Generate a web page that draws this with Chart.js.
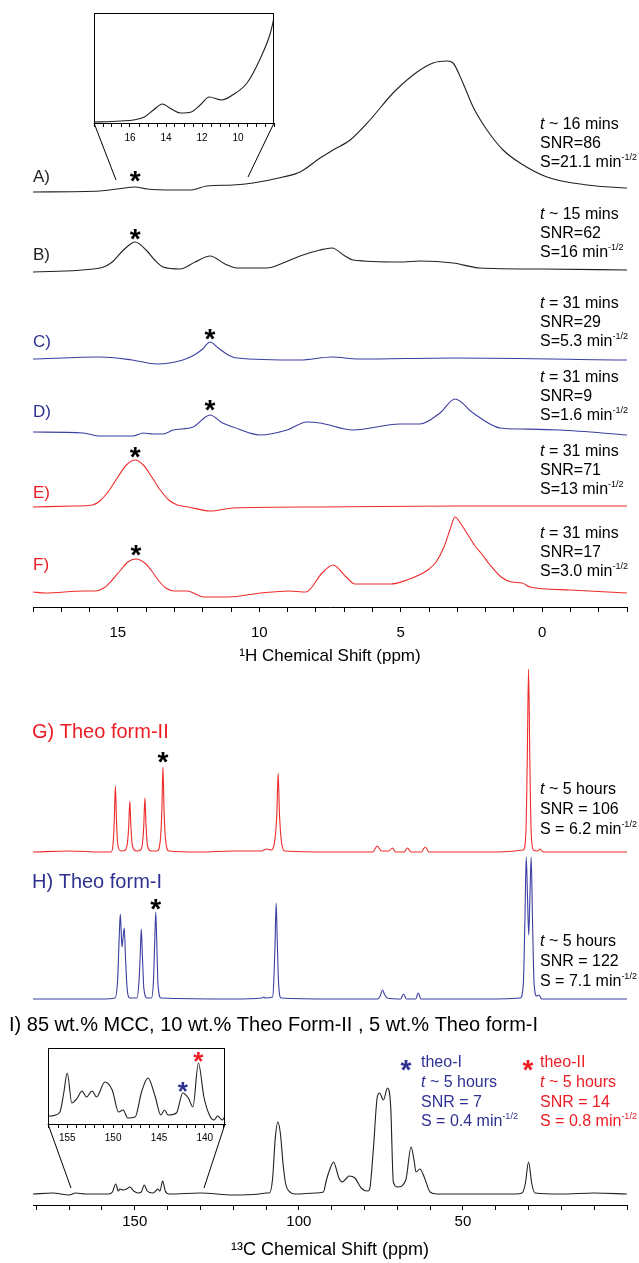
<!DOCTYPE html>
<html><head><meta charset="utf-8">
<script src="https://cdn.jsdelivr.net/npm/chart.js@4/dist/chart.umd.min.js"></script>
<style>
html,body{margin:0;padding:0;background:#fff;}
#wrap{position:relative;width:639px;height:1263px;overflow:hidden;background:#fff;}
canvas{position:absolute;}
</style></head><body>
<div id="wrap">
<canvas id="c1"></canvas>
<canvas id="c2"></canvas>
<canvas id="c3"></canvas>
<canvas id="c4"></canvas>
</div>
<script>
// ================= DATA =================
// 1H spectra  [ppm, intensity (a.u.)]
const specA_1H = [[18,0],[15.63,1],[15.03,3],[14.39,5],[13.97,3],[13.05,2],[12.45,2],[11.85,6],[10.93,7],[10.22,9],[9.16,15],[8.56,20],[7.85,34],[7.39,42],[6.79,52],[6.09,72],[5.27,99],[4.42,120],[3.86,129],[3.36,131],[3.15,129],[2.80,109],[2.44,85],[1.95,62],[1.38,42],[0.78,29],[-0.17,15],[-1.59,7],[-3,4]];
const specB_1H = [[18,0],[15.63,4],[15.2,10],[14.8,22],[14.39,30],[14.0,22],[13.7,12],[13.40,5],[12.80,3],[12.27,10],[11.74,16],[11.21,8],[10.79,4],[9.73,4],[9.16,9],[8.56,16],[7.85,22],[7.43,24],[6.97,16],[6.69,12],[5.03,10],[4.32,11],[3.15,9],[2.20,4],[0.08,3],[-3,2]];
const specC_1H = [[18,0],[15.63,2],[14.5,-1],[13.62,-5],[12.70,-1],[12.3,4],[12.0,10],[11.74,17],[11.45,11],[11.1,4],[10.79,1],[8.56,-1],[7.43,2],[6.5,0],[3.1,1],[-3,-1]];
const specD_1H = [[18,0],[16.23,-1],[15.63,-4],[14.46,-4],[14.11,-1],[13.75,-2],[13.40,-2],[13.05,2],[12.34,5],[11.74,17],[11.3,9],[10.93,5],[9.97,-3],[9.02,2],[8.31,10],[7.85,9],[6.69,2],[5.03,8],[4.32,8],[3.61,19],[3.08,33],[2.44,19],[1.49,4],[0.78,3],[-0.63,2],[-3,-3]];
const specE_1H = [[18,0],[16.5,1],[15.9,2],[15.6,7],[15.3,17],[15.0,30],[14.7,42],[14.39,47],[14.1,42],[13.8,30],[13.5,17],[13.2,7],[12.9,2],[12.5,0],[11.74,-4],[10.93,-1],[7.85,0],[3.1,1],[-3,1]];
const specF_1H = [[18,0],[17.57,-1],[16.2,1],[15.8,1],[15.5,4],[15.2,12],[14.9,22],[14.65,30],[14.36,33],[14.05,29],[13.8,21],[13.55,11],[13.3,4],[13.0,1],[12.56,1],[11.95,-5],[11.11,-5],[9.94,-1],[8.95,1],[8.35,0],[7.78,19],[7.39,27],[6.93,15],[6.62,8],[5.34,8],[4.78,12],[4.04,22],[3.75,30],[3.47,45],[3.26,62],[3.08,75],[2.87,68],[2.62,57],[2.37,46],[2.16,39],[1.84,27],[1.45,15],[1.07,10],[0.71,9],[0.43,5],[-0.98,2],[-3,-1]];
// inset of spectrum A (expanded vertical scale)
const insetA_1H = [[18,1],[17,1.5],[16.5,2],[15.8,3],[15.2,6],[14.7,13],[14.2,19],[13.7,14],[13.2,10],[12.6,11],[12.1,18],[11.6,26],[10.9,23],[10.3,28],[9.5,40],[8.8,63],[8.2,90],[8,105]];

const labels1H = ['A)','B)','C)','D)','E)','F)'];
const times1H  = ['~ 16 mins','~ 15 mins','= 31 mins','= 31 mins','= 31 mins','= 31 mins'];
const snr1H    = ['86','62','29','9','71','17'];
const sens1H   = ['21.1','16','5.3','1.6','13','3.0'];
const star1H   = [14.39,14.39,11.74,11.74,14.39,14.36];
const ticks1H  = [15,10,5,0];

// 13C spectra [ppm, intensity (a.u.)]
const specG_13C = [[181,0],[170,1],[160,0],[157.2,0],[156.6,8],[156.25,30],[155.9,66],[155.55,30],[155.1,6],[154.2,1],[152.8,2],[152.2,10],[151.85,25],[151.5,51],[151.15,24],[150.7,6],[149.5,1],[148.2,2],[147.6,10],[147.25,26],[146.9,54],[146.55,26],[146.1,6],[145,1],[143.2,1],[142.2,12],[141.75,40],[141.4,85],[141.05,40],[140.6,12],[139.6,1],[130,0],[120,1],[111.5,1],[109.8,3],[108.5,2],[107.4,10],[106.7,38],[106.3,79],[105.9,38],[105.2,8],[104.3,1],[90,0],[77.5,0],[76.1,6],[74.8,1],[72.6,1],[71.5,4],[70.5,0],[67.9,0],[66.9,4],[65.8,0],[62.7,0],[61.5,5],[60.3,0],[40,0],[31.6,2],[30.8,20],[30.4,90],[30.0,183],[29.6,90],[29.2,20],[28.5,2],[27.3,1],[26.5,3],[25.6,0],[0,0]];
const specH_13C = [[181,0],[160,0],[156,1],[155.2,20],[154.75,60],[154.4,85],[154.1,65],[153.9,52],[153.6,60],[153.2,71],[152.8,40],[152.3,10],[151.5,1],[149.3,1],[148.7,18],[148.35,42],[148.0,70],[147.65,42],[147.2,10],[146.2,1],[144.9,1],[144.3,18],[143.95,52],[143.6,87],[143.25,52],[142.9,14],[142,1],[120,0],[111.2,1],[110.7,2],[110.2,1],[108,2],[107.6,20],[107.25,55],[106.9,96],[106.55,55],[106.2,18],[105.4,1],[90,0],[76,0],[75.2,3],[74.5,9],[73.8,4],[73,1],[69,0],[68.1,5],[67.2,0],[64.4,0],[63.6,6],[62.8,0],[40,0],[32.5,1],[31.6,15],[31.1,80],[30.7,142],[30.3,100],[29.95,64],[29.6,100],[29.2,142],[28.8,80],[28.3,15],[27.5,3],[26.8,4],[26,0],[0,0]];
const specI_13C = [[181,0],[175,1],[170,-1],[168,1],[165,0],[158,0],[156.8,2],[155.8,10],[155,3],[154.5,5],[153.5,4],[152.5,5],[151.5,7],[150.3,3],[149,1],[148,2],[147.1,9],[146.2,3],[144.5,1],[143.6,3],[143.0,5],[142.3,3],[141.5,13],[140.7,3],[139.5,0],[130,1],[120,-1],[112,0],[110,1],[109,1],[108,15],[107.2,55],[106.4,72],[105.6,60],[104.8,30],[104,10],[103,3],[101,0],[95,1],[92.5,2],[91.6,14],[90.4,26],[89.4,32],[88.5,24],[87.9,17],[86.7,12],[85.7,15],[84.7,18],[82.9,16],[81.0,6],[79.2,3],[78.5,4],[77.3,44],[76.1,97],[75.4,101],[74.2,94],[73.0,106],[72.0,87],[71.2,12],[69.9,7],[67.4,14],[65.8,47],[64.9,34],[64.3,22],[63.1,25],[61.8,17],[60.0,2],[58,0],[45,0],[34,0],[32,1],[31,10],[30.0,32],[29,10],[28,1],[20,0],[10,1],[0,0]];
// inset of spectrum I (expanded)
const insetI_13C = [[157.1,8],[156.8,8],[156.3,9],[155.8,12],[155.4,30],[155.0,51],[154.5,21],[153.9,26],[153.4,33],[152.9,27],[152.3,33],[151.8,27],[150.9,42],[150.1,34],[149.4,12],[148.9,14],[148.4,6],[147.6,7],[146.9,32],[146.2,46],[145.4,27],[144.8,9],[144.4,14],[144.0,9],[143.1,11],[142.4,31],[141.8,26],[141.3,17],[140.7,61],[140.1,27],[139.5,9],[139.0,4],[138.6,8],[138.1,4],[137.8,8]];
const ticks13C = [150,100,50];
const starInsetI = [[142.4,'blue'],[140.7,'red']];

// ================= STYLE / LAYOUT =================
const FONT = "'Liberation Sans', Arial, Helvetica, sans-serif";
const BLACK = '#231f20', BLUE = '#2e3192', RED = '#ed1c24';
const TRACE_BLUE = '#3b3fa0', TRACE_RED = '#ef2b2b';

function place(id, left, top, w, h){
  const c = document.getElementById(id);
  c.width = w; c.height = h;
  c.style.left = left+'px'; c.style.top = top+'px';
  c.style.width = w+'px'; c.style.height = h+'px';
  return c;
}
function txt(ctx, x, y, parts, color, size, align){
  ctx.save(); ctx.fillStyle = color; ctx.textBaseline = 'middle'; ctx.textAlign = 'left';
  let total = 0;
  const seg = parts.map(([s, st])=>{
    const sz = st==='s' ? Math.round(size*0.58) : size;
    const f = (st==='i'?'italic ':'') + sz + 'px ' + FONT;
    ctx.font = f; const w = ctx.measureText(s).width; total += w;
    return {s, f, w, dy: st==='s' ? -size*0.33 : 0};
  });
  let cx = align==='center' ? x - total/2 : x;
  for (const g of seg){ ctx.font = g.f; ctx.fillText(g.s, cx, y+g.dy); cx += g.w; }
  ctx.restore();
}
function drawStar(ctx, x, cy, size, color, bold){
  ctx.save(); ctx.fillStyle = color; ctx.font = (bold?'bold ':'') + size + 'px ' + FONT;
  ctx.textAlign = 'center'; ctx.textBaseline = 'alphabetic';
  ctx.fillText('*', x, cy + size*0.58); ctx.restore();
}
function peakVal(data, ppm){ let m = -Infinity; for (const [p,v] of data) if (Math.abs(p-ppm) < 0.3) m = Math.max(m, v); return m; }
function line(ctx, x1,y1,x2,y2){ ctx.beginPath(); ctx.moveTo(x1,y1); ctx.lineTo(x2,y2); ctx.stroke(); }
function ds(data, off, color, w){
  return {data: data.map(p=>({x:p[0], y:p[1]+off})), borderColor: color, borderWidth: w||1.1,
          pointRadius: 0, fill: false, cubicInterpolationMode: 'monotone'};
}
function xAxis(min, max, step, labelSet, fontSize, tickLen, pad, title, titleSize, titlePad, height){
  const o = {
    type:'linear', reverse:true, min, max,
    ticks:{stepSize:step, autoSkip:false, maxRotation:0, includeBounds:false, color:'#000', padding:pad,
           font:{family:FONT, size:fontSize},
           callback: v => labelSet.some(l => Math.abs(l - v) < 1e-6) ? String(Math.round(v)) : ''},
    grid:{drawOnChartArea:false, drawTicks:true, tickLength:tickLen, color:'#000', lineWidth:1},
    border:{display:true, color:'#000', width:1},
    afterFit: s => { s.height = height; }
  };
  if (title) o.title = {display:true, text:title, color:'#000', font:{family:FONT, size:titleSize}, padding:{top:0, bottom:titlePad}};
  return o;
}
const baseOpts = {responsive:false, animation:false, devicePixelRatio:1,
  plugins:{legend:{display:false}, tooltip:{enabled:false}}, events:[]};

// ---------- Chart 1 : 1H spectra ----------
const H1_AXIS_Y = 607;
const off1H = [607-192, 607-272, 607-359, 607-432, 607-507, 607-592];
const specs1H = [specA_1H, specB_1H, specC_1H, specD_1H, specE_1H, specF_1H];
const cols1H  = [BLACK, BLACK, TRACE_BLUE, TRACE_BLUE, TRACE_RED, TRACE_RED];
const lblCol1H = [BLACK, BLACK, BLUE, BLUE, RED, RED];
const LBL_Y = [177, 255, 342, 412, 493, 565];
const TXT_Y = [125, 215, 304, 378, 452, 534];
const STAR_GAP = [13, 10, 10, 12, 10, 11];

const annot1 = {id:'annot1', afterDraw(chart){
  const ctx = chart.ctx, xs = chart.scales.x, ys = chart.scales.y;
  ctx.save(); ctx.strokeStyle = '#000'; ctx.lineWidth = 1;
  line(ctx, 94,123, 116,180); line(ctx, 274,123, 248,177);
  ctx.restore();
  specs1H.forEach((d,i)=>{
    txt(ctx, 33, LBL_Y[i], [[labels1H[i],'']], lblCol1H[i], 17);
    const ty = TXT_Y[i];
    txt(ctx, 540, ty,    [['t','i'],[' '+times1H[i],'']], '#000', 16);
    txt(ctx, 540, ty+19, [['SNR='+snr1H[i],'']], '#000', 16);
    txt(ctx, 540, ty+38, [['S='+sens1H[i]+' min',''],['-1/2','s']], '#000', 16);
    const pv = peakVal(d, star1H[i]);
    drawStar(ctx, xs.getPixelForValue(star1H[i]), ys.getPixelForValue(off1H[i]+pv) - STAR_GAP[i], 28, '#000', true);
  });
}};
new Chart(place('c1', 0, 0, 639, 680), {
  type:'line',
  data:{datasets: specs1H.map((d,i)=>ds(d, off1H[i], cols1H[i]))},
  options:{...baseOpts, layout:{padding:{left:33, right:12, top:0, bottom:0}},
    scales:{ x: xAxis(-3, 18, 1, ticks1H, 15, 5, 12, '¹H Chemical Shift (ppm)', 17, 13, 73),
             y: {display:false, min:0, max:H1_AXIS_Y} }},
  plugins:[annot1]
});

// ---------- Chart 3 : inset of A ----------
const boxPlugin = {id:'box', afterDraw(chart){
  const a = chart.chartArea, ctx = chart.ctx;
  ctx.save(); ctx.strokeStyle = '#000'; ctx.lineWidth = 1;
  ctx.strokeRect(Math.round(a.left)+0.5, Math.round(a.top)+0.5, Math.round(a.right-a.left)-1, Math.round(a.bottom-a.top));
  ctx.restore();
}};
new Chart(place('c3', 84, 13, 200, 140), {
  type:'line',
  data:{datasets:[ds(insetA_1H, 0, BLACK, 1.1)]},
  options:{...baseOpts, layout:{padding:{left:10, right:10, top:0, bottom:0}},
    scales:{ x: xAxis(8, 18, 0.5, [16,14,12,10], 10, 4, 5, null, 0, 0, 30),
             y: {display:false, min:0, max:110} }},
  plugins:[boxPlugin]
});

// ---------- Chart 2 : 13C spectra ----------
const TOP2 = 640;
const off13C = [1205-852, 1205-999, 1205-1194];
const annot2 = {id:'annot2', afterDraw(chart){
  const ctx = chart.ctx, xs = chart.scales.x, ys = chart.scales.y;
  const Y = v => v - TOP2;
  txt(ctx, 32, Y(732), [['G) Theo form-II','']], RED, 20);
  txt(ctx, 32, Y(882), [['H) Theo form-I','']], BLUE, 20);
  txt(ctx, 9, Y(1025), [['I) 85 wt.% MCC, 10 wt.% Theo Form-II , 5 wt.% Theo form-I','']], '#000', 20);
  drawStar(ctx, xs.getPixelForValue(141.4), ys.getPixelForValue(off13C[0]+peakVal(specG_13C,141.4)) - 12, 28, '#000', true);
  drawStar(ctx, xs.getPixelForValue(143.6), ys.getPixelForValue(off13C[1]+peakVal(specH_13C,143.6)) - 10, 28, '#000', true);
  const blk = [[790,'106','6.2'],[942,'122','7.1']];
  for (const [y0, snr, s] of blk){
    txt(ctx, 540, Y(y0),    [['t','i'],[' ~ 5 hours','']], '#000', 16);
    txt(ctx, 540, Y(y0+20), [['SNR = '+snr,'']], '#000', 16);
    txt(ctx, 540, Y(y0+40), [['S = '+s+' min',''],['-1/2','s']], '#000', 16);
  }
  // legend
  const leg = [[406, 421, BLUE, 'theo-I', '7', '0.4'], [528, 540, RED, 'theo-II', '14', '0.8']];
  for (const [sx, tx, c, name, snr, s] of leg){
    drawStar(ctx, sx, Y(1063), 28, c, true);
    txt(ctx, tx, Y(1063), [[name,'']], c, 16);
    txt(ctx, tx, Y(1083), [['t','i'],[' ~ 5 hours','']], c, 16);
    txt(ctx, tx, Y(1103), [['SNR = '+snr,'']], c, 16);
    txt(ctx, tx, Y(1122), [['S = '+s+' min',''],['-1/2','s']], c, 16);
  }
  ctx.save(); ctx.strokeStyle = '#000'; ctx.lineWidth = 1;
  line(ctx, 48, Y(1124), 71, Y(1188)); line(ctx, 225, Y(1124), 204, Y(1188));
  ctx.restore();
}};
new Chart(place('c2', 0, TOP2, 639, 623), {
  type:'line',
  data:{datasets:[ds(specG_13C, off13C[0], TRACE_RED), ds(specH_13C, off13C[1], TRACE_BLUE), ds(specI_13C, off13C[2], BLACK)]},
  options:{...baseOpts, layout:{padding:{left:33, right:12, top:0, bottom:0}},
    scales:{ x: xAxis(0, 181, 10, ticks13C, 15, 5, 3, '¹³C Chemical Shift (ppm)', 18, 2, 58),
             y: {display:false, min:0, max:1205-TOP2} }},
  plugins:[annot2]
});

// ---------- Chart 4 : inset of I ----------
const insetStars = {id:'istars', afterDraw(chart){
  const ctx = chart.ctx, xs = chart.scales.x, ys = chart.scales.y;
  for (const [p, c] of starInsetI){
    const col = c==='blue' ? BLUE : RED;
    drawStar(ctx, xs.getPixelForValue(p), ys.getPixelForValue(peakVal(insetI_13C, p)) - 8, 26, col, true);
  }
}};
new Chart(place('c4', 38, 1048, 197, 106), {
  type:'line',
  data:{datasets:[ds(insetI_13C, 0, BLACK, 1.1)]},
  options:{...baseOpts, layout:{padding:{left:10, right:10, top:0, bottom:0}},
    scales:{ x: xAxis(137.8, 157.1, 1, [155,150,145,140], 10, 4, 4, null, 0, 0, 30),
             y: {display:false, min:0, max:76} }},
  plugins:[boxPlugin, insetStars]
});
</script>
</body></html>
